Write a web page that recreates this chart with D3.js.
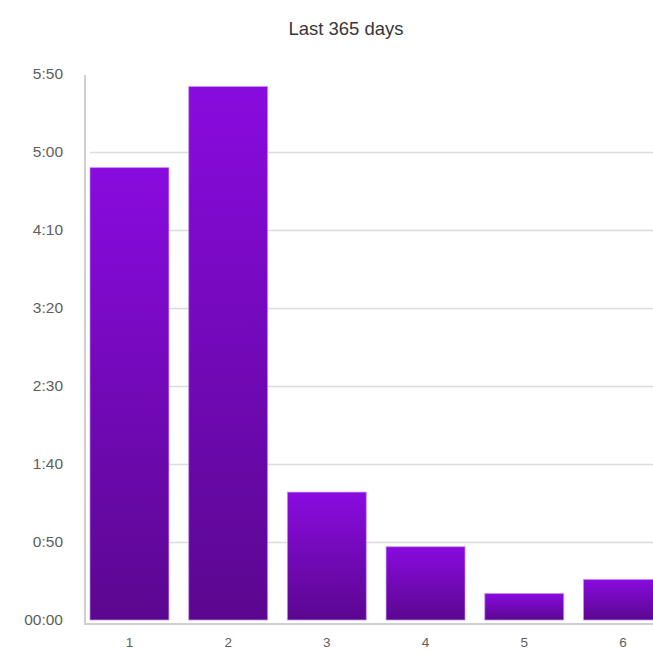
<!DOCTYPE html>
<html>
<head>
<meta charset="utf-8">
<script src="https://cdn.jsdelivr.net/npm/d3@7"></script>
<style>
  html, body { margin: 0; padding: 0; background: #fff; overflow: hidden; }
  svg { display: block; font-family: "Liberation Sans", Arial, Helvetica, sans-serif; }
</style>
</head>
<body>
<svg id="chart" width="653" height="652"></svg>
<script>
// Time spent per bucket over the last year, in minutes
const categories = ["1", "2", "3", "4", "5", "6"];
const minutes = [290, 342, 82, 47, 17, 26];
const tickValues = [0, 50, 100, 150, 200, 250, 300, 350];
const tickLabels = ["00:00", "0:50", "1:40", "2:30", "3:20", "4:10", "5:00", "5:50"];
const title = "Last 365 days";

const W = 653, H = 652;
const svg = d3.select("#chart");

const x = d3.scaleBand()
  .domain(categories)
  .range([80.1, 672.3])
  .paddingInner(0.2)
  .paddingOuter(0.1);

const y = d3.scaleLinear()
  .domain([0, 350])
  .range([620, 74]);

// vertical gradient for the bars
const defs = svg.append("defs");
const grad = defs.append("linearGradient")
  .attr("id", "barGrad")
  .attr("x1", 0).attr("y1", 0).attr("x2", 0).attr("y2", 1);
grad.append("stop").attr("offset", "0%").attr("stop-color", "#890bdf");
grad.append("stop").attr("offset", "100%").attr("stop-color", "#5b0790");

// title
svg.append("text")
  .attr("x", 346).attr("y", 34.5)
  .attr("text-anchor", "middle")
  .attr("font-size", 18.5)
  .attr("fill", "#383838")
  .text(title);

// horizontal gridlines (skip baseline and top)
svg.append("g")
  .selectAll("line")
  .data(tickValues.filter(v => v > 0 && v < 350))
  .join("line")
  .attr("x1", 90).attr("x2", W)
  .attr("y1", d => Math.round(y(d)) + 0.5)
  .attr("y2", d => Math.round(y(d)) + 0.5)
  .attr("stroke", "#dcdcdc")
  .attr("stroke-width", 1.5);

// y axis labels
const yAxis = d3.axisLeft(y)
  .tickValues(tickValues)
  .tickFormat((d, i) => tickLabels[i])
  .tickSize(0)
  .tickPadding(0);
const gy = svg.append("g")
  .attr("transform", "translate(63,0)")
  .call(yAxis);
gy.select(".domain").remove();
gy.selectAll("text")
  .attr("font-size", 15.5)
  .attr("fill", "#5e5e5e")
  .attr("font-family", "Liberation Sans, Arial, sans-serif");

// x axis labels
const xAxis = d3.axisBottom(x).tickSize(0).tickPadding(0);
const gx = svg.append("g")
  .attr("transform", "translate(0,637)")
  .call(xAxis);
gx.select(".domain").remove();
gx.selectAll("text")
  .attr("font-size", 13.5)
  .attr("dy", "0.72em")
  .attr("fill", "#5e5e5e")
  .attr("font-family", "Liberation Sans, Arial, sans-serif");

// bars
svg.append("g")
  .selectAll("rect")
  .data(minutes)
  .join("rect")
  .attr("x", (d, i) => x(categories[i]))
  .attr("y", d => y(d))
  .attr("width", x.bandwidth())
  .attr("height", d => y(0) - y(d))
  .attr("fill", "url(#barGrad)")
  .attr("stroke", "rgba(200,150,245,0.7)")
  .attr("stroke-width", 1);

// axis lines
svg.append("line")
  .attr("x1", 85).attr("x2", 85)
  .attr("y1", 75).attr("y2", 625)
  .attr("stroke", "#cfcfcf").attr("stroke-width", 2);
svg.append("line")
  .attr("x1", 84).attr("x2", W)
  .attr("y1", 624).attr("y2", 624)
  .attr("stroke", "#cfcfcf").attr("stroke-width", 2);
</script>
</body>
</html>
